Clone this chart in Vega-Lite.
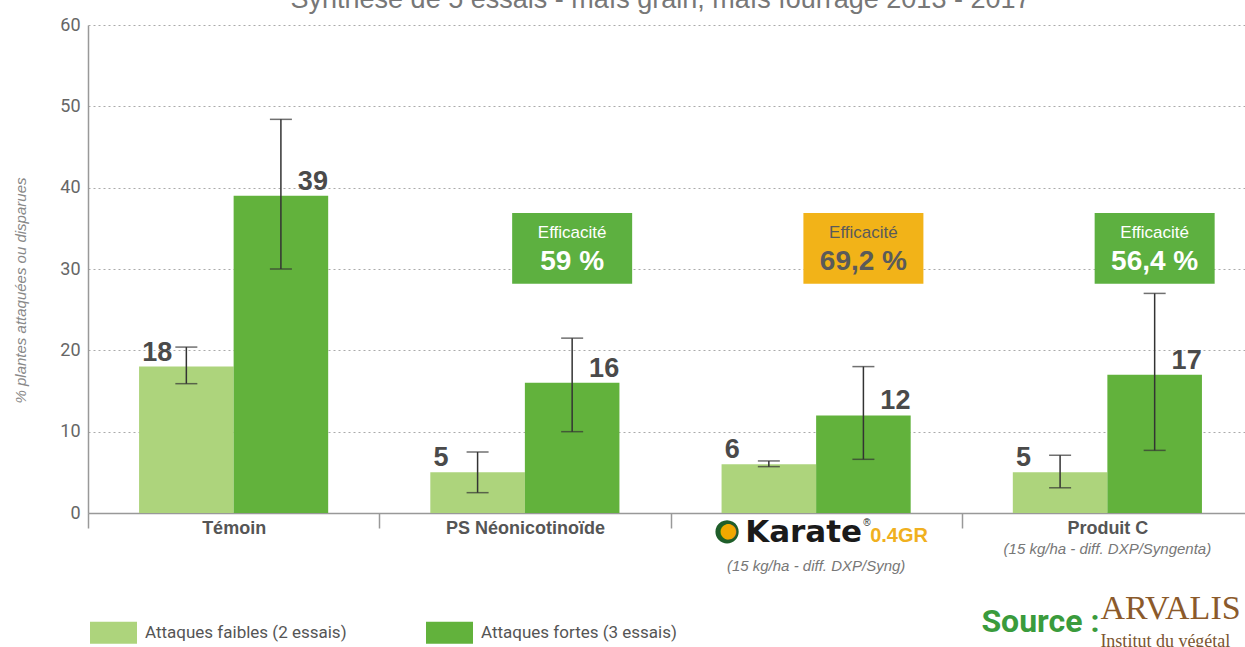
{
 "$schema": "https://vega.github.io/schema/vega-lite/v6.json",
 "autosize": "none",
 "width": 1157,
 "height": 488,
 "padding": {"left": 88, "top": 25, "right": 0, "bottom": 134},
 "background": "white",
 "config": {"view": {"stroke": null}, "font": "Liberation Sans"},
 "datasets": {
  "bars": [
   {"cat": "Témoin", "serie": "Attaques faibles (2 essais)", "value": 18, "lo": 15.9, "hi": 20.4},
   {"cat": "Témoin", "serie": "Attaques fortes (3 essais)", "value": 39, "lo": 30, "hi": 48.4},
   {"cat": "PS Néonicotinoïde", "serie": "Attaques faibles (2 essais)", "value": 5, "lo": 2.5, "hi": 7.5},
   {"cat": "PS Néonicotinoïde", "serie": "Attaques fortes (3 essais)", "value": 16, "lo": 10, "hi": 21.5},
   {"cat": "Karate 0.4GR", "serie": "Attaques faibles (2 essais)", "value": 6, "lo": 5.7, "hi": 6.4},
   {"cat": "Karate 0.4GR", "serie": "Attaques fortes (3 essais)", "value": 12, "lo": 6.6, "hi": 18},
   {"cat": "Produit C", "serie": "Attaques faibles (2 essais)", "value": 5, "lo": 3.1, "hi": 7.1},
   {"cat": "Produit C", "serie": "Attaques fortes (3 essais)", "value": 17, "lo": 7.7, "hi": 27}
  ],
  "eff": [
   {"cat": "PS Néonicotinoïde", "eff": "59 %"},
   {"cat": "Karate 0.4GR", "eff": "69,2 %"},
   {"cat": "Produit C", "eff": "56,4 %"}
  ],
  "notes": [
   {"cat": "Karate 0.4GR", "note": "(15 kg/ha - diff. DXP/Syng)"},
   {"cat": "Produit C", "note": "(15 kg/ha - diff. DXP/Syngenta)"}
  ]
 },
 "layer": [
  {
   "data": {"name": "bars"},
   "mark": {"type": "bar"},
   "encoding": {
    "x": {"field": "cat", "type": "nominal", "sort": null,
     "scale": {"domain": ["Témoin", "PS Néonicotinoïde", "Karate 0.4GR", "Produit C"], "range": [0, 1165], "paddingInner": 0, "paddingOuter": 0},
     "axis": {"title": null, "labelAngle": 0, "labelFontSize": 18, "labelFontWeight": "bold", "labelColor": "#555", "domainColor": "#999", "domainWidth": 1.5, "tickColor": "#999", "tickWidth": 1.5, "tickSize": 15, "tickBand": "extent", "labelPadding": -9, "labelBaseline": "top", "labelExpr": "datum.value == 'Karate 0.4GR' ? '' : datum.value", "grid": false}},
    "xOffset": {"field": "serie", "type": "nominal", "scale": {"domain": ["Attaques faibles (2 essais)", "Attaques fortes (3 essais)"], "paddingOuter": 0.54, "paddingInner": 0}},
    "y": {"field": "value", "type": "quantitative",
     "scale": {"domain": [0, 60], "nice": false},
     "axis": {"title": "% plantes attaquées ou disparues", "titleFontSize": 15, "titleFontStyle": "italic", "titleFontWeight": "normal", "titleColor": "#888", "titleX": -68, "titleY": 265, "titleAngle": -90, "titleBaseline": "middle", "titleAlign": "center", "values": [0, 10, 20, 30, 40, 50, 60], "labelFontSize": 18, "labelColor": "#666", "labelFont": "Roboto", "labelPadding": 8, "ticks": false, "domainColor": "#999", "domainWidth": 1.5, "gridColor": "#aaa", "gridDash": [2, 3], "gridWidth": 1}},
    "color": {"field": "serie", "type": "nominal",
     "scale": {"domain": ["Attaques faibles (2 essais)", "Attaques fortes (3 essais)"], "range": ["#add47c", "#62b23c"]},
     "legend": {"title": null, "orient": "none", "legendX": 2, "legendY": 584, "direction": "horizontal", "symbolType": "M-1,-0.47H1V0.47H-1Z", "symbolSize": 2209, "symbolStrokeWidth": 0, "labelFontSize": 17, "labelColor": "#555", "labelFont": "Roboto", "labelOffset": 8, "columnPadding": 79, "labelLimit": 400}}
   }
  },
  {
   "data": {"name": "bars"},
   "mark": {"type": "rule", "color": "#333", "strokeWidth": 1.5},
   "encoding": {
    "x": {"field": "cat", "type": "nominal", "sort": null},
    "xOffset": {"field": "serie", "type": "nominal"},
    "y": {"field": "lo", "type": "quantitative"},
    "y2": {"field": "hi"}
   }
  },
  {
   "data": {"name": "bars"},
   "mark": {"type": "tick", "color": "#333", "thickness": 1.5},
   "encoding": {
    "x": {"field": "cat", "type": "nominal", "sort": null},
    "xOffset": {"field": "serie", "type": "nominal"},
    "y": {"field": "lo", "type": "quantitative"},
    "size": {"value": 22}
   }
  },
  {
   "data": {"name": "bars"},
   "mark": {"type": "tick", "color": "#333", "thickness": 1.5},
   "encoding": {
    "x": {"field": "cat", "type": "nominal", "sort": null},
    "xOffset": {"field": "serie", "type": "nominal"},
    "y": {"field": "hi", "type": "quantitative"},
    "size": {"value": 22}
   }
  },
  {
   "data": {"name": "bars"},
   "transform": [{"filter": "datum.serie == 'Attaques faibles (2 essais)'"}],
   "mark": {"type": "text", "align": "left", "baseline": "alphabetic", "dx": -44, "dy": -6, "fontSize": 27, "fontWeight": "bold", "color": "#4a4a4a"},
   "encoding": {
    "x": {"field": "cat", "type": "nominal", "sort": null},
    "xOffset": {"field": "serie", "type": "nominal"},
    "y": {"field": "value", "type": "quantitative"},
    "text": {"field": "value", "type": "quantitative"}
   }
  },
  {
   "data": {"name": "bars"},
   "transform": [{"filter": "datum.serie == 'Attaques fortes (3 essais)'"}],
   "mark": {"type": "text", "align": "right", "baseline": "alphabetic", "dx": 47, "dy": -6, "fontSize": 27, "fontWeight": "bold", "color": "#4a4a4a"},
   "encoding": {
    "x": {"field": "cat", "type": "nominal", "sort": null},
    "xOffset": {"field": "serie", "type": "nominal"},
    "y": {"field": "value", "type": "quantitative"},
    "text": {"field": "value", "type": "quantitative"}
   }
  },
  {
   "data": {"name": "eff"},
   "mark": {"type": "bar", "width": 120},
   "encoding": {
    "x": {"field": "cat", "type": "nominal", "sort": null},
    "xOffset": {"datum": "Attaques fortes (3 essais)"},
    "y": {"datum": 28.2},
    "y2": {"datum": 36.9},
    "color": {"condition": {"test": "datum.cat == 'Karate 0.4GR'", "value": "#f2b318"}, "value": "#5db040"}
   }
  },
  {
   "data": {"name": "eff"},
   "mark": {"type": "text", "baseline": "middle", "align": "center", "fontSize": 17},
   "encoding": {
    "x": {"field": "cat", "type": "nominal", "sort": null},
    "xOffset": {"datum": "Attaques fortes (3 essais)"},
    "y": {"datum": 34.4},
    "text": {"value": "Efficacité"},
    "color": {"condition": {"test": "datum.cat == 'Karate 0.4GR'", "value": "#5a5a5a"}, "value": "#ffffff"}
   }
  },
  {
   "data": {"name": "eff"},
   "mark": {"type": "text", "baseline": "middle", "align": "center", "fontSize": 28, "fontWeight": "bold"},
   "encoding": {
    "x": {"field": "cat", "type": "nominal", "sort": null},
    "xOffset": {"datum": "Attaques fortes (3 essais)"},
    "y": {"datum": 30.8},
    "text": {"field": "eff", "type": "nominal"},
    "color": {"condition": {"test": "datum.cat == 'Karate 0.4GR'", "value": "#5a5a5a"}, "value": "#ffffff"}
   }
  },
  {
   "data": {"name": "notes"},
   "transform": [{"filter": "datum.cat == 'Karate 0.4GR'"}],
   "mark": {"type": "text", "baseline": "middle", "align": "center", "fontSize": 15, "fontStyle": "italic", "color": "#777"},
   "encoding": {
    "x": {"field": "cat", "type": "nominal", "sort": null},
    "y": {"datum": -6.5},
    "text": {"field": "note", "type": "nominal"}
   }
  },
  {
   "data": {"name": "notes"},
   "transform": [{"filter": "datum.cat == 'Produit C'"}],
   "mark": {"type": "text", "baseline": "middle", "align": "center", "fontSize": 15, "fontStyle": "italic", "color": "#777"},
   "encoding": {
    "x": {"field": "cat", "type": "nominal", "sort": null},
    "y": {"datum": -4.4},
    "text": {"field": "note", "type": "nominal"}
   }
  },
  {
   "data": {"values": [{}]},
   "mark": {"type": "text", "baseline": "alphabetic", "align": "center", "dx": -6, "fontSize": 27, "color": "#777"},
   "encoding": {
    "y": {"datum": 62.03},
    "text": {"value": "Synthèse de 5 essais - maïs grain, maïs fourrage 2013 - 2017"}
   }
  },
  {
   "data": {"values": [{}]},
   "mark": {"type": "text", "baseline": "alphabetic", "align": "right", "dx": 46, "fontSize": 31, "fontWeight": "bold", "font": "DejaVu Sans", "color": "#1a1a1a"},
   "encoding": {
    "x": {"datum": "Karate 0.4GR"},
    "y": {"datum": -3.6},
    "text": {"value": "Karate"}
   }
  },
  {
   "data": {"values": [{}]},
   "mark": {"type": "text", "baseline": "top", "align": "left", "dx": 47, "fontSize": 10, "color": "#1a1a1a"},
   "encoding": {
    "x": {"datum": "Karate 0.4GR"},
    "y": {"datum": -0.6},
    "text": {"value": "®"}
   }
  },
  {
   "data": {"values": [{}]},
   "mark": {"type": "text", "baseline": "alphabetic", "align": "left", "dx": 54, "fontSize": 20, "fontWeight": "bold", "color": "#f0b020"},
   "encoding": {
    "x": {"datum": "Karate 0.4GR"},
    "y": {"datum": -3.6},
    "text": {"value": "0.4GR"}
   }
  },
  {
   "data": {"values": [{}]},
   "mark": {"type": "text", "baseline": "middle", "align": "center", "dx": -89, "fontSize": 54, "color": "#1f5e2a"},
   "encoding": {
    "x": {"datum": "Karate 0.4GR"},
    "y": {"datum": -2.2},
    "text": {"value": "●"}
   }
  },
  {
   "data": {"values": [{}]},
   "mark": {"type": "text", "baseline": "middle", "align": "center", "dx": -88, "fontSize": 36, "color": "#f0a800"},
   "encoding": {
    "x": {"datum": "Karate 0.4GR"},
    "y": {"datum": -2.2},
    "text": {"value": "●"}
   }
  },
  {
   "data": {"values": [{}]},
   "mark": {"type": "text", "baseline": "alphabetic", "align": "left", "dx": -126, "fontSize": 32, "fontWeight": "bold", "font": "Roboto", "color": "#3a9b3c"},
   "encoding": {
    "x": {"datum": "Produit C"},
    "y": {"datum": -14.6},
    "text": {"value": "Source :"}
   }
  },
  {
   "data": {"values": [{}]},
   "mark": {"type": "text", "baseline": "alphabetic", "align": "left", "dx": -7, "fontSize": 34, "font": "Liberation Serif", "color": "#8b5a2b"},
   "encoding": {
    "x": {"datum": "Produit C"},
    "y": {"datum": -13},
    "text": {"value": "ARVALIS"}
   }
  },
  {
   "data": {"values": [{}]},
   "mark": {"type": "text", "baseline": "alphabetic", "align": "left", "dx": -7, "fontSize": 18, "font": "Liberation Serif", "color": "#7a5530"},
   "encoding": {
    "x": {"datum": "Produit C"},
    "y": {"datum": -16.5},
    "text": {"value": "Institut du végétal"}
   }
  }
 ]
}
